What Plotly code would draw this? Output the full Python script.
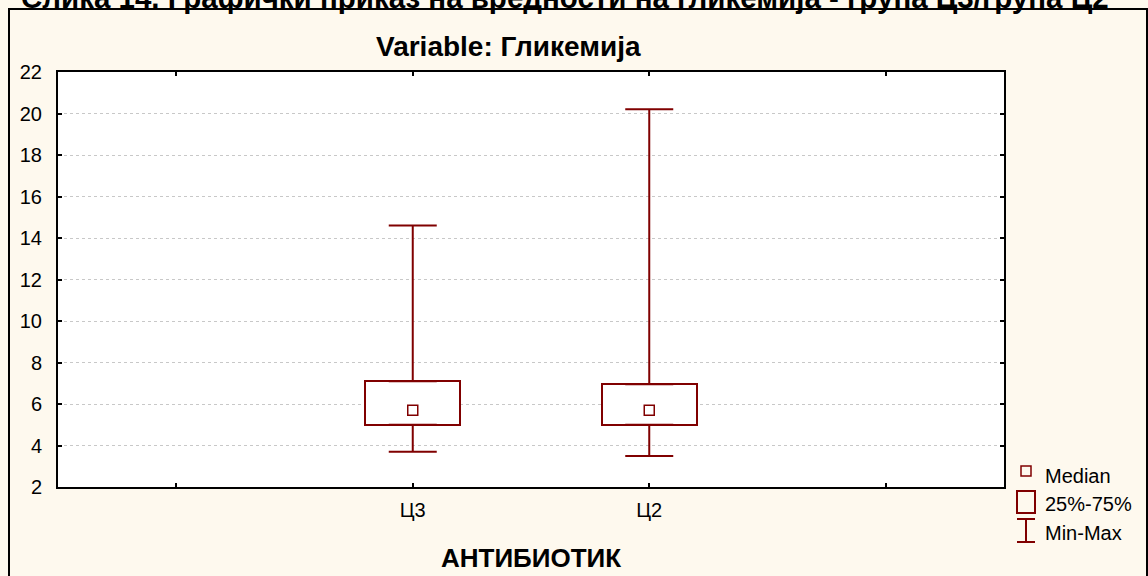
import plotly.graph_objects as go

# Glycemia summary statistics per antibiotic group
categories = ["Ц3", "Ц2"]
minimum = [3.7, 3.5]
q1 = [5.0, 5.0]
median = [5.7, 5.7]
q3 = [7.1, 6.95]
maximum = [14.6, 20.2]

y_ticks = [2, 4, 6, 8, 10, 12, 14, 16, 18, 20, 22]

DARK_RED = "#800000"
BG = "#FEF9EE"
FONT = "Liberation Sans, Arial, sans-serif"

# Category slots: one empty slot on each side of the groups
positions = list(range(1, len(categories) + 1))
slot_vals = [0] + positions + [len(categories) + 1]
slot_text = [""] + categories + [""]

W, H = 1148, 576
L, R, T, B = 58, 144, 72, 89
PW, PH = W - L - R, H - T - B


def px_x(p):
    return (p - L) / PW


def px_y(p):
    return (H - B - p) / PH


fig = go.Figure()

# 25%-75% boxes
fig.add_trace(go.Bar(
    x=positions,
    y=[b - a for a, b in zip(q1, q3)],
    base=q1,
    width=0.4,
    marker=dict(color="white", line=dict(color=DARK_RED, width=2)),
    showlegend=False,
    hoverinfo="skip",
))

# Upper whiskers: from Q3 up to max
fig.add_trace(go.Scatter(
    x=positions, y=q3, mode="markers",
    marker=dict(size=1, color="rgba(0,0,0,0)"),
    error_y=dict(type="data", symmetric=False,
                 array=[mx - b for mx, b in zip(maximum, q3)],
                 arrayminus=[0] * len(q3),
                 color=DARK_RED, thickness=2, width=24),
    showlegend=False, hoverinfo="skip",
))

# Lower whiskers: from Q1 down to min
fig.add_trace(go.Scatter(
    x=positions, y=q1, mode="markers",
    marker=dict(size=1, color="rgba(0,0,0,0)"),
    error_y=dict(type="data", symmetric=False,
                 array=[0] * len(q1),
                 arrayminus=[a - mn for a, mn in zip(q1, minimum)],
                 color=DARK_RED, thickness=2, width=24),
    showlegend=False, hoverinfo="skip",
))

# Medians
fig.add_trace(go.Scatter(
    x=positions, y=median, mode="markers",
    marker=dict(symbol="square-open", size=10, color=DARK_RED,
                line=dict(width=1.5, color=DARK_RED)),
    showlegend=False, hoverinfo="skip",
))

shapes = []
annotations = []

# Outer frame around the whole chart
shapes.append(dict(type="rect", xref="paper", yref="paper",
                   x0=px_x(9), x1=px_x(1147), y0=px_y(590), y1=px_y(9),
                   line=dict(color="black", width=2), layer="above"))

# Legend glyphs
lx0, lx1, lxc = 1017, 1035, 1026
shapes.append(dict(type="rect", xref="paper", yref="paper",
                   x0=px_x(1021), x1=px_x(1031), y0=px_y(476), y1=px_y(466),
                   line=dict(color=DARK_RED, width=1.5)))
shapes.append(dict(type="rect", xref="paper", yref="paper",
                   x0=px_x(lx0), x1=px_x(lx1), y0=px_y(513), y1=px_y(491),
                   line=dict(color=DARK_RED, width=2)))
shapes.append(dict(type="line", xref="paper", yref="paper",
                   x0=px_x(lxc), x1=px_x(lxc), y0=px_y(542), y1=px_y(519),
                   line=dict(color=DARK_RED, width=2)))
for yy in (519, 542):
    shapes.append(dict(type="line", xref="paper", yref="paper",
                       x0=px_x(lx0), x1=px_x(lx1), y0=px_y(yy), y1=px_y(yy),
                       line=dict(color=DARK_RED, width=2)))

for label, yy in (("Median", 476), ("25%-75%", 504), ("Min-Max", 533)):
    annotations.append(dict(text=label, xref="paper", yref="paper",
                            x=px_x(1043), y=px_y(yy), xanchor="left",
                            yanchor="middle", showarrow=False,
                            font=dict(family=FONT, size=20, color="black")))

# Figure caption (runs off the top edge)
annotations.append(dict(
    text="<b>Слика 14. Графички приказ на вредности на гликемија - група Ц3/група Ц2</b>",
    xref="paper", yref="paper", x=px_x(19), y=px_y(16),
    xanchor="left", yanchor="bottom", showarrow=False,
    font=dict(family=FONT, size=29.5, color="black")))

# Plot title
annotations.append(dict(
    text="<b>Variable: Гликемија</b>",
    xref="paper", yref="paper", x=px_x(508), y=px_y(46),
    xanchor="center", yanchor="middle", showarrow=False,
    font=dict(family=FONT, size=28, color="black")))

# Axis title
annotations.append(dict(
    text="<b>АНТИБИОТИК</b>",
    xref="paper", yref="paper", x=px_x(531), y=px_y(558),
    xanchor="center", yanchor="middle", showarrow=False,
    font=dict(family=FONT, size=26, color="black")))

fig.update_layout(
    width=W, height=H,
    margin=dict(l=L, r=R, t=T, b=B, pad=0),
    paper_bgcolor=BG,
    plot_bgcolor="white",
    font=dict(family=FONT, size=20, color="black"),
    shapes=shapes,
    annotations=annotations,
    bargap=0,
    xaxis=dict(
        range=[slot_vals[0] - 0.5, slot_vals[-1] + 0.5],
        tickmode="array", tickvals=slot_vals, ticktext=slot_text,
        showgrid=False, zeroline=False,
        showline=True, linecolor="black", linewidth=2, mirror="ticks",
        ticks="inside", ticklen=4, tickwidth=2, tickcolor="black",
        ticklabelstandoff=4,
        tickfont=dict(family=FONT, size=20, color="black"),
    ),
    yaxis=dict(
        range=[y_ticks[0], y_ticks[-1]],
        tickmode="array", tickvals=y_ticks,
        showgrid=True, gridcolor="#C8C8C8", griddash="dot", gridwidth=1,
        zeroline=False,
        showline=True, linecolor="black", linewidth=2, mirror="ticks",
        ticks="inside", ticklen=4, tickwidth=2, tickcolor="black",
        ticklabelstandoff=10,
        tickfont=dict(family=FONT, size=20, color="black"),
    ),
)

fig.write_html("out.html")
